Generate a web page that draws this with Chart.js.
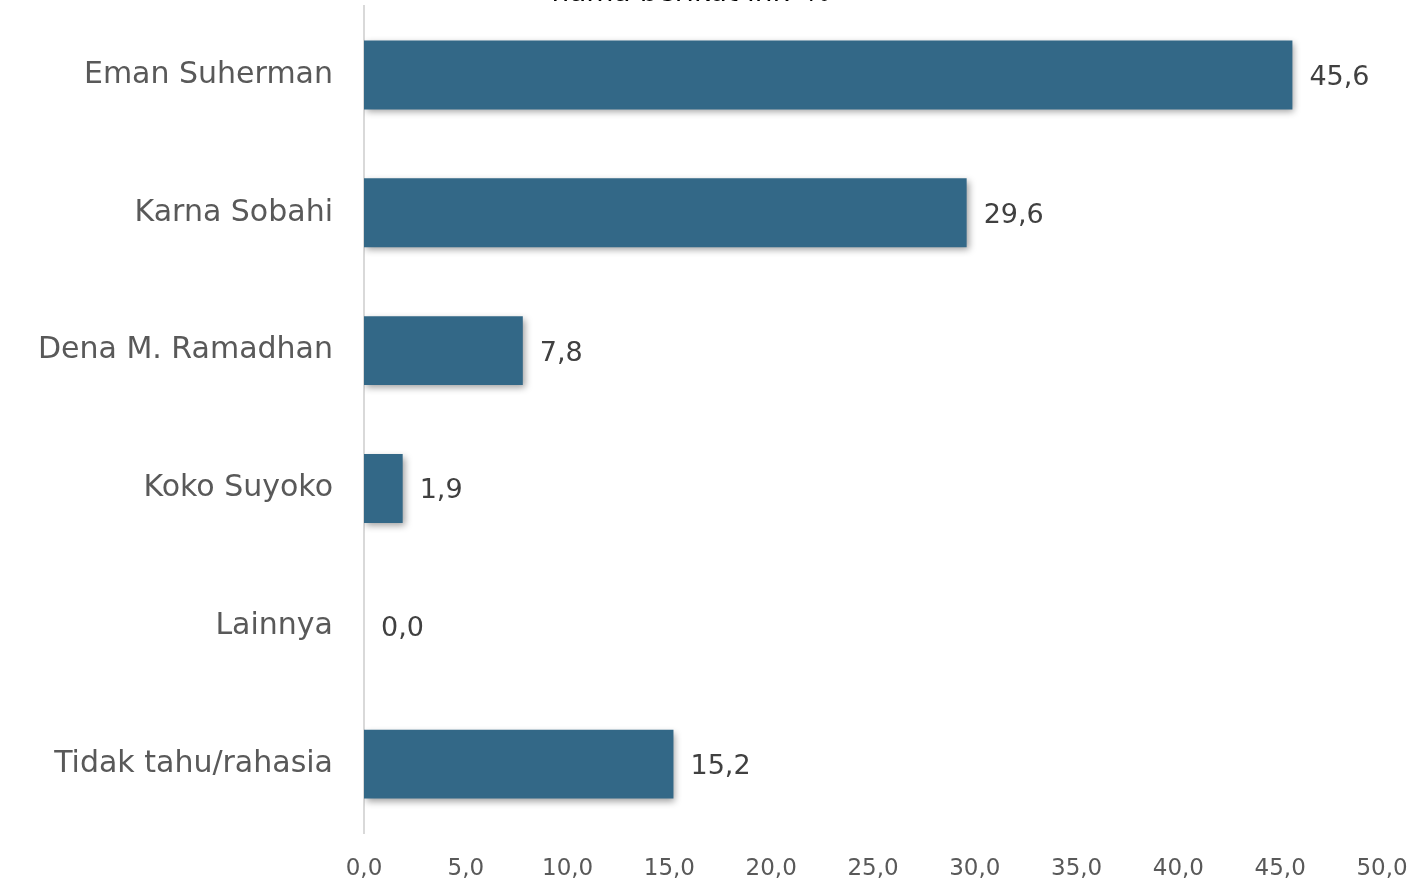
<!DOCTYPE html>
<html>
<head>
<meta charset="utf-8">
<script src="https://cdn.jsdelivr.net/npm/chart.js@4"></script>
<style>
  html, body { margin: 0; padding: 0; background: #ffffff; overflow: hidden; }
  #wrap { position: absolute; left: 0; top: -20px; width: 1415px; height: 900px; }
</style>
</head>
<body>
<div id="wrap"><canvas id="c"></canvas></div>
<script>
const titleText = "nama berikut ini? %";
const categories = ["Eman Suherman", "Karna Sobahi", "Dena M. Ramadhan", "Koko Suyoko", "Lainnya", "Tidak tahu/rahasia"];
const values = [45.6, 29.6, 7.8, 1.9, 0.0, 15.2];
const axisMin = 0;
const axisMax = 50;
const axisStep = 5;

const FONT = "'DejaVu Sans', sans-serif";
const fmt = v => Number(v).toFixed(1).replace('.', ',');

const shadowPlugin = {
  id: 'barShadow',
  beforeDatasetsDraw(chart) {
    const ctx = chart.ctx;
    ctx.save();
    ctx.shadowColor = 'rgba(0,0,0,0.38)';
    ctx.shadowBlur = 7;
    ctx.shadowOffsetX = 2;
    ctx.shadowOffsetY = 3;
  },
  afterDatasetsDraw(chart) {
    chart.ctx.restore();
  }
};

const labelPlugin = {
  id: 'valueLabels',
  afterDraw(chart) {
    const ctx = chart.ctx;
    const meta = chart.getDatasetMeta(0);
    ctx.save();
    ctx.font = "27px " + FONT;
    ctx.fillStyle = '#404040';
    ctx.textAlign = 'left';
    ctx.textBaseline = 'middle';
    meta.data.forEach((bar, i) => {
      const v = chart.data.datasets[0].data[i];
      ctx.fillText(fmt(v), bar.x + 17, bar.y + 3);
    });
    ctx.restore();
  }
};

new Chart(document.getElementById('c'), {
  type: 'bar',
  data: {
    labels: categories,
    datasets: [{
      data: values,
      backgroundColor: '#336887',
      borderWidth: 0,
      barPercentage: 0.5,
      categoryPercentage: 1.0
    }]
  },
  options: {
    indexAxis: 'y',
    responsive: true,
    maintainAspectRatio: false,
    animation: false,
    layout: { padding: { left: 0, right: 33, top: 0, bottom: 0 } },
    plugins: {
      legend: { display: false },
      tooltip: { enabled: false },
      title: {
        display: true,
        text: titleText,
        color: '#000000',
        font: { family: FONT, size: 28, weight: 'normal', lineHeight: 1.0 },
        padding: { top: 0, bottom: -2 }
      }
    },
    scales: {
      x: {
        min: axisMin,
        max: axisMax,
        grid: { display: false, drawTicks: false },
        border: { display: false },
        ticks: {
          stepSize: axisStep,
          color: '#595959',
          font: { family: FONT, size: 23 },
          padding: 22,
          callback: v => fmt(v)
        },
        afterFit(scale) {
          scale.height = 47;
          scale.paddingLeft = 0;
          scale.paddingRight = 0;
        }
      },
      y: {
        grid: { display: false, drawTicks: false },
        border: { display: true, color: '#d9d9d9', width: 2 },
        ticks: {
          color: '#595959',
          font: { family: FONT, size: 30 },
          padding: 31
        },
        afterFit(scale) {
          scale.width = 364;
          scale.paddingTop = 0;
          scale.paddingBottom = 0;
        }
      }
    }
  },
  plugins: [shadowPlugin, labelPlugin]
});
</script>
</body>
</html>
